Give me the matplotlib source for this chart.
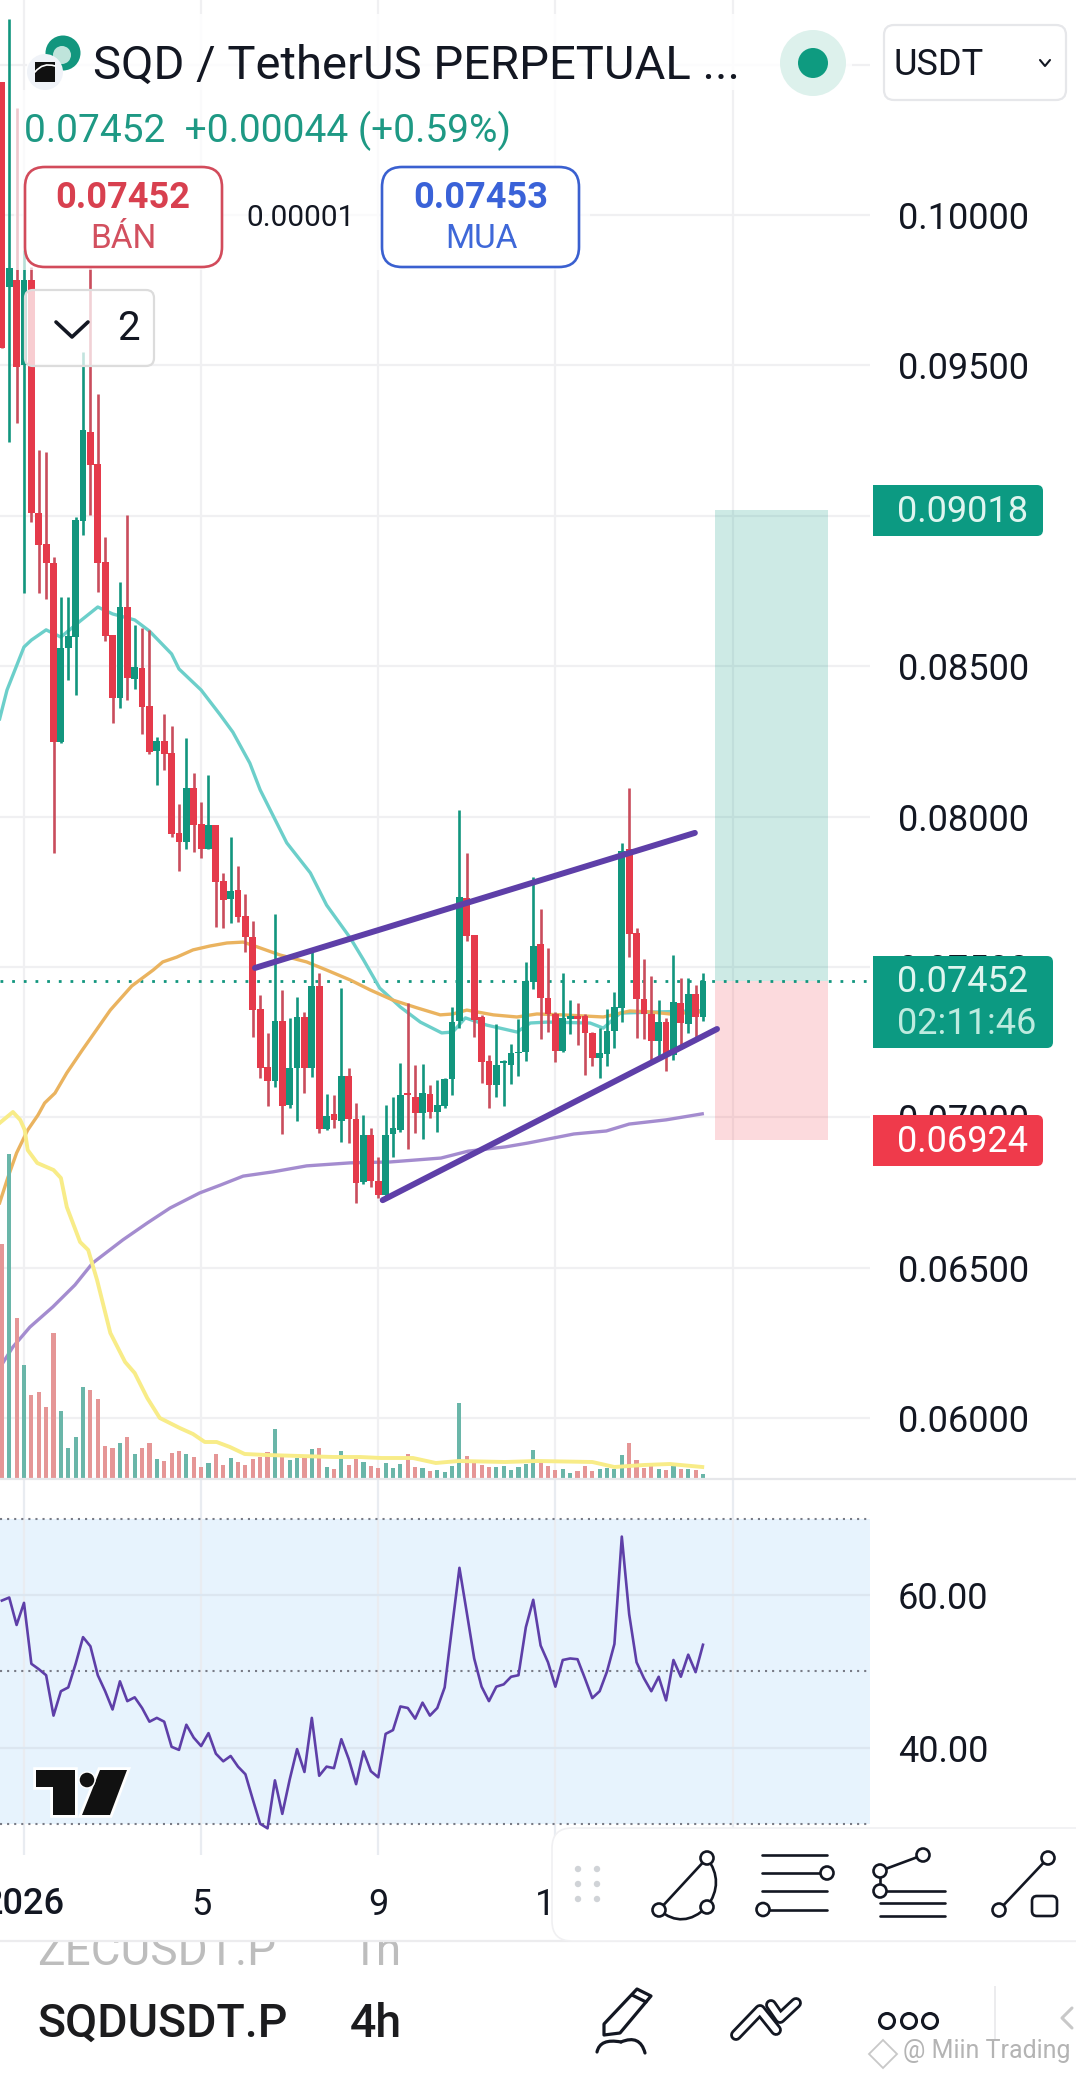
import numpy as np
import matplotlib
matplotlib.use("Agg")
import matplotlib.pyplot as plt
from matplotlib.patches import FancyBboxPatch, Circle, Polygon, Rectangle, PathPatch
from matplotlib.path import Path

plt.rcParams['font.family'] = ['Roboto', 'DejaVu Sans']

W, H = 1076, 2074
PANE_R = 870
PRICE_BOTTOM = 1479
RSI_BOTTOM = 1855

# 4h candles, prices in 1e-5 USDT
first_bar = -3
opens = [10442, 9761, 9784, 9502, 9784, 9010, 8906, 8843, 8248, 8561, 8597, 8983, 9279, 9172, 8847, 8604,
         8395, 8697, 8458, 8494, 8368, 8218, 8252, 8212, 7946, 7916, 8095, 7976, 7893, 7972, 7786, 7726,
         7756, 7670, 7600, 7361, 7168, 7121, 7321, 7041, 7165, 7334, 7165, 7437, 6962, 7011, 6988, 7138,
         6995, 6785, 6942, 6789, 6742, 6945, 6958, 7081, 7068, 7015, 7078, 7018, 7038, 7128, 7321, 7730,
         7607, 7334, 7188, 7108, 7181, 7174, 7214, 7218, 7450, 7577, 7397, 7344, 7221, 7327, 7337, 7337,
         7281, 7198, 7211, 7287, 7364, 7893, 7613, 7394, 7344, 7254, 7317, 7208, 7381, 7311, 7410, 7334]
highs = [10442, 10652, 10356, 9884, 9827, 9219, 9212, 8863, 8730, 8730, 8996, 9545, 9824, 9405, 8930, 8604,
         8780, 9003, 8637, 8627, 8621, 8265, 8341, 8301, 8042, 8262, 8145, 8049, 8138, 7972, 7813, 7932,
         7836, 7743, 7653, 7407, 7281, 7677, 7424, 7331, 7400, 7351, 7563, 7480, 7078, 7075, 7430, 7165,
         7048, 7008, 6965, 6868, 7041, 7068, 7181, 7381, 7174, 7178, 7108, 7125, 7131, 7367, 8022, 7879,
         7607, 7341, 7208, 7311, 7191, 7244, 7327, 7517, 7799, 7693, 7563, 7351, 7480, 7390, 7381, 7344,
         7284, 7297, 7361, 7417, 7912, 8095, 7630, 7527, 7470, 7390, 7331, 7540, 7464, 7464, 7440, 7480]
lows = [9558, 9246, 9309, 8744, 8980, 8744, 8724, 7879, 8245, 8454, 8404, 8936, 9003, 8747, 8584, 8311,
        8361, 8388, 8424, 8275, 8208, 8105, 8155, 7932, 7819, 7893, 7883, 7863, 7893, 7633, 7630, 7646,
        7650, 7550, 7268, 7131, 7038, 7101, 6945, 7031, 6988, 7081, 7135, 6948, 6958, 6965, 6918, 6915,
        6716, 6779, 6769, 6732, 6736, 6868, 6952, 6895, 6948, 6928, 6998, 6952, 7031, 7075, 7297, 7587,
        7268, 7114, 7031, 7068, 7038, 7111, 7138, 7188, 7427, 7261, 7284, 7184, 7218, 7277, 7241, 7141,
        7171, 7131, 7171, 7231, 7317, 7533, 7264, 7261, 7191, 7201, 7155, 7191, 7231, 7281, 7264, 7321]
closes = [9558, 9824, 9495, 9784, 9010, 8903, 8843, 8248, 8561, 8601, 8986, 9285, 9169, 8843, 8601, 8395,
          8697, 8461, 8498, 8365, 8215, 8252, 8208, 7942, 7916, 8095, 7972, 7893, 7972, 7783, 7723, 7753,
          7666, 7600, 7357, 7165, 7121, 7321, 7038, 7165, 7334, 7165, 7437, 6962, 7005, 6992, 7138, 6995,
          6782, 6942, 6789, 6742, 6942, 6965, 7075, 7075, 7015, 7081, 7018, 7041, 7128, 7317, 7733, 7603,
          7324, 7184, 7108, 7174, 7188, 7214, 7218, 7454, 7570, 7397, 7344, 7221, 7331, 7337, 7327, 7281,
          7198, 7214, 7287, 7367, 7886, 7610, 7394, 7344, 7254, 7317, 7211, 7384, 7314, 7410, 7334, 7452]
volumes = [234, 324, 160, 113, 83, 86, 71, 145, 67, 30, 41, 91, 88, 79, 32, 30, 35, 41, 24, 30, 35, 19, 17, 25,
           27, 24, 21, 11, 15, 24, 13, 20, 16, 13, 19, 21, 26, 49, 22, 18, 20, 20, 29, 30, 11, 9, 27, 13,
           19, 16, 12, 10, 15, 10, 14, 24, 11, 10, 7, 8, 6, 12, 75, 22, 18, 13, 11, 11, 12, 8, 11, 14,
           28, 17, 12, 8, 9, 5, 7, 12, 7, 9, 10, 9, 23, 35, 18, 10, 12, 9, 8, 12, 9, 9, 8, 4]
rsi = [59.3, 59.7, 56.1, 59.0, 51.0, 50.3, 49.5, 44.2, 47.4, 47.9, 51.0, 54.5, 53.3, 49.5, 47.4, 45.0,
       48.7, 46.1, 46.6, 45.2, 43.4, 43.9, 43.4, 40.1, 39.7, 43.0, 41.3, 40.2, 41.9, 39.2, 38.2, 38.9,
       37.5, 36.5, 33.2, 30.0, 29.4, 35.7, 31.3, 35.8, 39.8, 36.8, 43.9, 36.3, 37.5, 37.3, 41.1, 38.5,
       35.2, 39.5, 36.9, 36.1, 41.8, 42.3, 45.4, 45.2, 43.8, 45.9, 44.2, 45.2, 47.9, 55.8, 63.6, 57.7,
       51.7, 48.0, 46.1, 48.0, 48.3, 49.3, 49.5, 55.8, 59.4, 53.4, 51.2, 48.0, 51.5, 51.7, 51.6, 49.1,
       46.5, 47.4, 50.0, 53.6, 67.7, 57.5, 51.2, 49.1, 47.4, 49.3, 46.2, 51.5, 49.3, 52.2, 49.9, 53.5]

ma_fast_x = [-3.3, -2.3, 0, 1, 3, 5, 7.6, 10, 12, 15, 17, 20, 21, 24, 26.6, 28.3, 30.6, 32, 35.6, 38.8, 41, 44.2,
             46, 48.2, 51, 53.7, 56.6, 58.1, 59.8, 62.7, 66.8, 68.6, 70.9, 76.7, 78.5, 80.8, 92]
ma_fast = [8325, 8421, 8564, 8587, 8621, 8597, 8650, 8697, 8674, 8654, 8617, 8541, 8491, 8421, 8338, 8281, 8178,
           8089, 7913, 7813, 7706, 7597, 7524, 7430, 7367, 7317, 7281, 7284, 7331, 7307, 7284, 7314, 7317, 7314,
           7297, 7347, 7355]
ma_mid_x = [-3.3, -2.2, -1, 0.5, 1.9, 2.8, 4.2, 5.8, 7.9, 11.7, 14.6, 17.5, 18.8, 20.7, 22.9, 25.2, 27.5, 29.7,
            31.6, 34.7, 38.3, 41, 44.2, 46.9, 50, 53.3, 56.4, 58.1, 60, 63.6, 66.8, 69.5, 73, 78.5, 82.1, 84.8,
            87.5, 91.7]
ma_mid = [6716, 6799, 6882, 6958, 7008, 7048, 7081, 7148, 7224, 7357, 7437, 7490, 7517, 7533, 7557, 7570, 7580,
          7583, 7567, 7540, 7517, 7490, 7457, 7424, 7390, 7364, 7341, 7344, 7357, 7341, 7334, 7344, 7341, 7334,
          7354, 7351, 7344, 7351]
ma_slow_x = [-3.3, -1.5, 0.8, 3.9, 6.9, 9.3, 13.4, 16.7, 19.8, 23.8, 26.6, 29.7, 33.7, 38.3, 44.2, 49.6, 56.5,
             60.2, 65.2, 68.3, 74.5, 78.9, 82, 87, 91.9]
ma_slow = [6167, 6237, 6303, 6370, 6443, 6516, 6593, 6649, 6699, 6749, 6775, 6805, 6819, 6839, 6849, 6852, 6865,
           6888, 6902, 6915, 6945, 6955, 6978, 6992, 7012]
vol_ma_x = [-3.3, -1.5, -0.5, 0.1, 0.5, 1.8, 4, 5, 5.8, 7.6, 8.7, 9.9, 11.7, 13.7, 15, 16.7, 18.4, 21.1, 22.9, 24.5,
            26.1, 27.9, 29.9, 32.9, 37.4, 41.9, 45.5, 48.4, 52.7, 55.8, 58.9, 65.2, 69.5, 77, 80, 84, 87.5, 91.9]
vol_ma = [355, 366, 358, 348, 328, 315, 308, 300, 271, 236, 228, 198, 145, 116, 105, 80, 60, 50, 44, 36, 36, 31, 24,
          23, 22, 21, 21, 20, 20, 15, 17, 16, 17, 16, 11, 13, 14, 11]

# drawings on the chart
upper_x = [31.3, 90.9]
upper_y = [7497, 7946]
lower_x = [48.6, 93.9]
lower_y = [6725, 7294]
box_x = [93.6, 108.9]
target_price = 9018
entry_price = 7452
stop_price = 6924

price_ticks = [6000, 6500, 7000, 7500, 8000, 8500, 9000, 9500, 10000, 10500]
time_ticks = [0, 24, 48, 72, 96]
time_labels = ['2026', '5', '9', '13', '17']
rsi_ticks = [40, 60]

TEAL = '#12967E'
RED = '#E53A4B'
RED_WICK = '#C94D5C'
GRID = '#F0F0F2'
PURPLE = '#5E3FA8'


def pane(top, bottom):
    return [0, 1 - bottom / H, PANE_R / W, (bottom - top) / H]


x = np.arange(len(closes)) + first_bar
o, h, l, c = [np.array(a) / 1e5 for a in (opens, highs, lows, closes)]
up = c >= o

fig = plt.figure(figsize=(W / 100, H / 100), dpi=100, facecolor='white')

ax = fig.add_axes(pane(0, PRICE_BOTTOM), zorder=2)
ax.patch.set_visible(False)
ax.set_xlim(-3.25, 114.63)
ax.set_ylim(0.05798, 0.10715)
for s in ax.spines.values():
    s.set_visible(False)
ax.yaxis.tick_right()
ax.set_yticks(np.array(price_ticks) / 1e5)
ax.set_yticklabels(['%.5f' % (p / 1e5) for p in price_ticks])
ax.set_xticks(time_ticks)
ax.tick_params(axis='y', length=0, pad=20, labelsize=26, labelcolor='#131722')
ax.tick_params(axis='x', length=0, labelbottom=False)
ax.grid(True, color=GRID, lw=1.6)
ax.set_axisbelow(True)

ax.fill_between(box_x, entry_price / 1e5, target_price / 1e5, color='#089981', alpha=0.2, lw=0, zorder=1.5)
ax.fill_between(box_x, stop_price / 1e5, entry_price / 1e5, color='#F23645', alpha=0.18, lw=0, zorder=1.5)
ax.axhline(entry_price / 1e5, color=TEAL, lw=2.0, dashes=(1, 3.2), zorder=2.5)

ax.plot(ma_fast_x, np.array(ma_fast) / 1e5, color='#6CCFCA', lw=2.4, zorder=3)
ax.plot(ma_mid_x, np.array(ma_mid) / 1e5, color='#EAB35F', lw=2.4, zorder=3.1)
ax.plot(ma_slow_x, np.array(ma_slow) / 1e5, color='#A48CCF', lw=2.4, zorder=3.2)

ax.vlines(x[up], l[up], h[up], color=TEAL, lw=1.9, zorder=4)
ax.vlines(x[~up], l[~up], h[~up], color=RED_WICK, lw=1.9, zorder=4)
ax.bar(x[up], (c - o)[up], bottom=o[up], width=0.92, color=TEAL, zorder=5)
ax.bar(x[~up], (o - c)[~up], bottom=c[~up], width=0.92, color=RED, zorder=5)

for xs, ys in ((upper_x, upper_y), (lower_x, lower_y)):
    ax.plot(xs, np.array(ys) / 1e5, color=PURPLE, lw=4.3, solid_capstyle='round', zorder=6)

# volume goes over the grid of the price pane, same x scale
ax_vol = fig.add_axes(pane(0, PRICE_BOTTOM), zorder=3)
ax_vol.set_xlim(-3.25, 114.63)
ax_vol.set_ylim(-1, 1478)
ax_vol.axis('off')
ax_vol.bar(x, volumes, width=0.56, color=np.where(up, '#6AB6A9', '#E59696'))
ax_vol.plot(vol_ma_x, vol_ma, color='#F8EC88', lw=2.8, solid_joinstyle='round')

# rsi pane
ax_rsi = fig.add_axes(pane(PRICE_BOTTOM, RSI_BOTTOM), zorder=2)
ax_rsi.set_xlim(-3.25, 114.63)
ax_rsi.set_ylim(25.9, 75.26)
for s in ax_rsi.spines.values():
    s.set_visible(False)
ax_rsi.axhspan(30, 70, color='#E7F3FD', lw=0, zorder=0.5)
ax_rsi.yaxis.tick_right()
ax_rsi.set_yticks(rsi_ticks)
ax_rsi.set_yticklabels(['%.2f' % t for t in rsi_ticks])
ax_rsi.set_xticks(time_ticks)
ax_rsi.set_xticklabels(time_labels)
ax_rsi.tick_params(axis='y', length=0, pad=20, labelsize=26, labelcolor='#131722')
ax_rsi.tick_params(axis='x', length=0, pad=23, labelsize=26, labelcolor='#131722')
ax_rsi.get_xticklabels()[0].set_fontweight('medium')
ax_rsi.grid(True, axis='x', color='#E9ECF1', lw=1.6)
ax_rsi.grid(True, axis='y', color='#DCE6F0', lw=1.6)
ax_rsi.set_axisbelow(True)
for level in (30, 50, 70):
    ax_rsi.axhline(level, color='#787B86', lw=1.5, dashes=(1, 2.4), zorder=2)
ax_rsi.plot(x, rsi, color=PURPLE, lw=1.9, zorder=3)

# app chrome on top, in screen pixels
ui = fig.add_axes([0, 0, 1, 1], zorder=5)
ui.set_xlim(0, W)
ui.set_ylim(H, 0)
ui.axis('off')


def round_box(x0, y0, x1, y1, r, fc='white', ec='none', lw=0, alpha=None, z=2):
    p = FancyBboxPatch((x0 + r, y0 + r), x1 - x0 - 2 * r, y1 - y0 - 2 * r, boxstyle='round,pad=%g,rounding_size=%g' % (r, r),
                       fc=fc, ec=ec, lw=lw, alpha=alpha, zorder=z)
    ui.add_patch(p)


def label(px, py, s, size, color='#131722', ha='left', va='center', weight='normal', z=6):
    ui.text(px, py, s, fontsize=size, color=color, ha=ha, va=va, fontweight=weight, zorder=z)


def ring(px, py, r=6.5, lw=1.9, z=7):
    ui.add_patch(Circle((px, py), r, fc='white', ec='#131722', lw=lw, zorder=z))


def stroke(xs, ys, lw=1.9, color='#131722', z=6):
    ui.plot(xs, ys, color=color, lw=lw, zorder=z, solid_capstyle='round', solid_joinstyle='round')


def curve(pts, lw=1.9, color='#131722', z=6):
    codes = [Path.MOVETO] + [Path.CURVE3] * (len(pts) - 1)
    ui.add_patch(PathPatch(Path(pts, codes), fc='none', ec=color, lw=lw, zorder=z, capstyle='round'))


# header veil
ui.add_patch(Rectangle((27, 14), 825, 76, fc='white', alpha=0.85, lw=0, zorder=1))
ui.add_patch(Rectangle((14, 90), 576, 180, fc='white', alpha=0.7, lw=0, zorder=1))

# symbol logos
ui.add_patch(Circle((63, 53), 17.5, fc='#12967E', lw=0, zorder=3))
ui.add_patch(Circle((62, 55), 9, fc='#BFE4DB', lw=0, zorder=3.1))
ui.add_patch(Circle((45, 72), 18, fc='#F0F3F8', lw=0, zorder=3.2))
ui.add_patch(Rectangle((35, 62), 20, 20, fc='#111111', lw=0, zorder=3.3))
curve([(35, 72), (43, 62), (55, 66)], lw=1.2, color='white', z=3.4)

label(93, 66, 'SQD / TetherUS PERPETUAL ...', 34)
ui.add_patch(Circle((813, 63), 33, fc='#DDF1EC', lw=0, zorder=3))
ui.add_patch(Circle((813, 63), 15, fc='#0E9B80', lw=0, zorder=4))
round_box(884, 25, 1066, 100, 10, ec='#E6E7EA', lw=1.6)
label(894, 65, 'USDT', 26)
stroke([1040, 1045, 1050], [60, 66, 60], lw=1.5)

label(24, 131, '0.07452  +0.00044 (+0.59%)', 28, color='#1E9984')

round_box(25, 167, 222, 267, 20, ec='#D24B5B', lw=1.9)
label(123, 198, '0.07452', 26, color='#D8404F', ha='center', weight='bold')
label(123, 239, 'BÁN', 24, color='#D2505F', ha='center')
label(301, 218, '0.00001', 21.5, ha='center')
round_box(382, 167, 579, 267, 20, ec='#3A60D0', lw=1.9)
label(481, 198, '0.07453', 26, color='#3A62D8', ha='center', weight='bold')
label(481, 239, 'MUA', 24, color='#3F68D8', ha='center')

round_box(25, 290, 154, 366, 8, fc=(1, 1, 1, 0.75), ec='#DCDCDC', lw=1.6)
stroke([56, 72, 88], [322, 337, 322], lw=2.6)
label(128, 329, '2', 29, ha='center')

# price badges
round_box(873, 485, 1043, 536, 6, fc='#0C9A82')
ui.add_patch(Rectangle((873, 485), 10, 51, fc='#0C9A82', lw=0, zorder=2))
label(897, 512, '0.09018', 26, color='#DFF5EF')
round_box(873, 956, 1053, 1048, 6, fc='#0C9A82')
ui.add_patch(Rectangle((873, 956), 10, 92, fc='#0C9A82', lw=0, zorder=2))
label(897, 982, '0.07452', 26, color='#DFF5EF')
label(897, 1024, '02:11:46', 26, color='#BDEBDF')
round_box(873, 1115, 1043, 1166, 6, fc='#EF3A4B')
ui.add_patch(Rectangle((873, 1115), 10, 51, fc='#EF3A4B', lw=0, zorder=2))
label(897, 1142, '0.06924', 26, color='white')

ui.plot([0, W], [PRICE_BOTTOM, PRICE_BOTTOM], color='#E6E7EA', lw=1.6, zorder=1)

# tradingview mark
logo = [[(36, 1770), (75, 1770), (75, 1815), (53, 1815), (53, 1787), (36, 1787)],
        [(100, 1770), (127, 1770), (110, 1815), (82, 1815)]]
for pts in logo:
    ui.add_patch(Polygon(pts, fc='#111111', ec='white', lw=4, joinstyle='miter', zorder=3))
    ui.add_patch(Polygon(pts, fc='#111111', lw=0, zorder=3.5))
ui.add_patch(Circle((87, 1780), 8, fc='#111111', ec='white', lw=1, zorder=3.6))

# faded symbol row behind the toolbar
label(37, 1965, 'ZECUSDT.P', 33, color='#BDBDBD', va='baseline', z=1)
label(350, 1965, '1h', 33, color='#BDBDBD', va='baseline', z=1)
ui.add_patch(Rectangle((0, 1925), W, 16, fc='white', lw=0, zorder=1.5))
ui.plot([0, W], [1941, 1941], color='#ECECEE', lw=1.6, zorder=1.6)

# drawing toolbar
round_box(552, 1828, W + 30, 1941, 20, ec='#F0F0F2', lw=1.2)
for dx in (578, 597):
    for dy in (1869, 1884, 1899):
        ui.add_patch(Circle((dx, dy), 3.2, fc='#D0D3D7', lw=0, zorder=6))
stroke([659, 707], [1910, 1858])
curve([(707, 1858), (725, 1882), (707, 1907)])
curve([(659, 1910), (683, 1930), (707, 1907)])
for p in ((707, 1858), (659, 1910), (707, 1907)):
    ring(*p)
for ly in (1855, 1873, 1891, 1909.5):
    stroke([762, 827], [ly, ly])
ring(827, 1873)
ring(763, 1909.5)
stroke([880, 923], [1871, 1855])
stroke([880, 880], [1871, 1891])
for ly in (1891, 1903, 1916):
    stroke([880, 945], [ly, ly])
ring(923, 1855)
ring(880, 1871)
ring(880, 1891)
stroke([999, 1048], [1910, 1858])
ring(1048, 1858)
ring(999, 1910)
round_box(1032, 1896, 1057, 1916, 5, ec='#131722', lw=1.9, z=6)

# bottom bar
label(37, 2024, 'SQDUSDT.P', 33.5, color='#1C1C1E', weight='medium')
label(350, 2024, '4h', 33.5, color='#1C1C1E', weight='medium')
ui.add_patch(Polygon([(604, 2035), (604, 2024), (637, 1989), (651, 1996), (620, 2033)], fc='white', ec='#131722', lw=2.3,
                     joinstyle='round', zorder=6))
stroke([632, 646], [1995, 2002], lw=2.3)
curve([(597, 2052), (600, 2038), (621, 2042)], lw=2.3)
curve([(621, 2042), (640, 2034), (645, 2053)], lw=2.3)
for lw_, col, z_ in ((8.5, '#131722', 6), (4.5, 'white', 6.1)):
    stroke([736, 760, 776], [2035, 2010, 2030], lw=lw_, color=col, z=z_)
    stroke([771, 780, 796], [2005, 2018, 2003], lw=lw_, color=col, z=z_)
for cx in (887, 909, 930):
    ring(cx, 2021, r=7.5, lw=2.2)
ui.plot([994.5, 994.5], [1987, 2038], color='#ECECEE', lw=1.4, zorder=6)
stroke([1072, 1062, 1072], [2008, 2018, 2028], lw=2.2, color='#C8C8C8')

# watermark
ui.add_patch(Polygon([(883, 2040), (897, 2054), (883, 2068), (869, 2054)], fc='none', ec='#C8C8C8', lw=1.3, zorder=8))
label(903, 2051, '@ Miin Trading', 18, color='#B4B4B4', z=8)

fig.savefig('out.png', dpi=100)
